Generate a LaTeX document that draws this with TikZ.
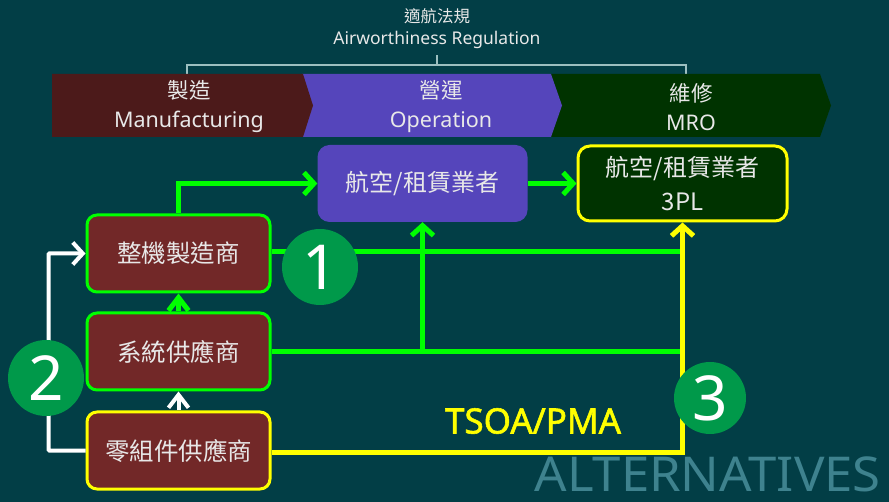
\documentclass[tikz,border=0pt]{standalone}
\usepackage{fontspec}
\setmainfont{Noto Sans}
\newfontfamily\cjk{Noto Sans CJK TC}
\newfontfamily\heavy[FakeBold=1.6]{Noto Sans}
\usetikzlibrary{arrows.meta}
\definecolor{bg}{HTML}{023E46}
\definecolor{chevbrown}{HTML}{4C1A1A}
\definecolor{chevpurple}{HTML}{5545BB}
\definecolor{chevgreen}{HTML}{003300}
\definecolor{boxbrown}{HTML}{722828}
\definecolor{lime}{HTML}{00FF00}
\definecolor{yel}{HTML}{FFFF00}
\definecolor{circgreen}{HTML}{00994A}
\definecolor{txt}{HTML}{E8E8E8}
\definecolor{brk}{HTML}{9CBFC0}
\definecolor{alt}{HTML}{3E828E}
\tikzset{
  gline/.style={draw=lime, line width=5pt},
  yline/.style={draw=yel, line width=5pt},
  wline/.style={draw=white, line width=4pt},
  arr/.style={-{Straight Barb[length=10pt,width=22pt]}},
  sarr/.style={-{Straight Barb[length=13pt,width=20pt]}},
  box/.style={rounded corners=10pt, minimum width=183pt, minimum height=77pt, fill=boxbrown, line width=3pt, text=txt, font=\cjk\fontsize{24.5}{28}\selectfont},
  topbox/.style={rounded corners=12pt, minimum width=210pt, minimum height=77pt, text=txt, font=\cjk\fontsize{24}{28}\selectfont, align=center},
  num/.style={circle, fill=circgreen, minimum size=76pt, inner sep=0pt, text=white, font=\fontsize{62}{62}\selectfont},
  chevtxt/.style={text=txt, align=center, font=\fontsize{21.5}{29}\selectfont},
  brkline/.style={draw=brk, line width=1.5pt}
}
\begin{document}
\begin{tikzpicture}[x=1pt,y=-1pt]
\fill[bg] (0,0) rectangle (889,502);
\useasboundingbox (0,0) rectangle (889,502);

% title and bracket
\node[text=txt, align=center, font=\fontsize{17.5}{22}\selectfont] (title) at (437,29) {{\cjk\fontsize{16.5}{22}\selectfont 適航法規}\\Airworthiness Regulation};
\draw[brkline] (187,74) -- (187,65) -- (686,65) -- (686,74);
\draw[brkline] (437,65) -- (437,55);

% chevrons
\fill[chevgreen] (550,74) -- (820,74) -- (831,105.5) -- (820,137) -- (550,137) -- cycle;
\fill[chevpurple] (302,74) -- (551,74) -- (562,105.5) -- (551,137) -- (302,137) -- cycle;
\fill[chevbrown] (52,74) -- (303,74) -- (313,105.5) -- (303,137) -- (52,137) -- cycle;
\node[chevtxt] (cm) at (189,107) {{\cjk 製造}\\Manufacturing};
\node[chevtxt] (co) at (441,107) {{\cjk 營運}\\Operation};
\node[chevtxt] (cr) at (691,107) {{\cjk 維修}\\MRO};

% boxes
\node[box, draw=lime] (mfr) at (178.5,253.5) {整機製造商};
\node[box, draw=lime] (sys) at (178.5,351.5) {系統供應商};
\node[box, draw=yel] (part) at (178.5,450.5) {零組件供應商};
\node[topbox, fill=chevpurple] (air) at (422.5,183.5) {航空/租賃業者};
\node[topbox, fill=chevgreen, draw=yel, line width=3pt, minimum width=209pt, minimum height=75pt, font=\cjk\fontsize{24}{34}\selectfont] (tpl) at (682.5,183.5) {航空/租賃業者\\3PL};

% green connectors
\draw[gline, arr] (mfr.north) |- (air.west);
\draw[gline, arr] (air.east) -- (tpl.west);
\draw[gline] ([yshift=1.5pt]mfr.east) -- ([yshift=1.5pt]mfr.east -| tpl.south);
\draw[gline] (sys.east) -- (sys.east -| tpl.south);
\draw[gline, arr] (sys.east -| air.south) -- (air.south);
\draw[gline, sarr] (sys.north) -- (mfr.south);

% yellow connector
\draw[yline, arr] ([yshift=-2pt]part.east) -| (tpl.south);

% white connectors
\draw[wline, sarr] (part.north) -- (sys.south);
\draw[wline, arr, rounded corners=1pt] (part.west) -- ++(-37,0) |- (mfr.west);

% numbered circles
\node[num] (n1) at (320,267) {1};
\node[num] (n2) at (46,378) {2};
\node[num, minimum size=72pt] (n3) at (710,398) {3};

% labels
\node[text=yel, font=\heavy\fontsize{35}{35}\selectfont] (tsoa) at (533,421) {TSOA/PMA};
\node[text=alt, font=\fontsize{48}{48}\selectfont, anchor=base east, inner sep=0pt, xscale=1.06] (alt) at (881,491) {ALTERNATIVES};
\end{tikzpicture}
\end{document}
